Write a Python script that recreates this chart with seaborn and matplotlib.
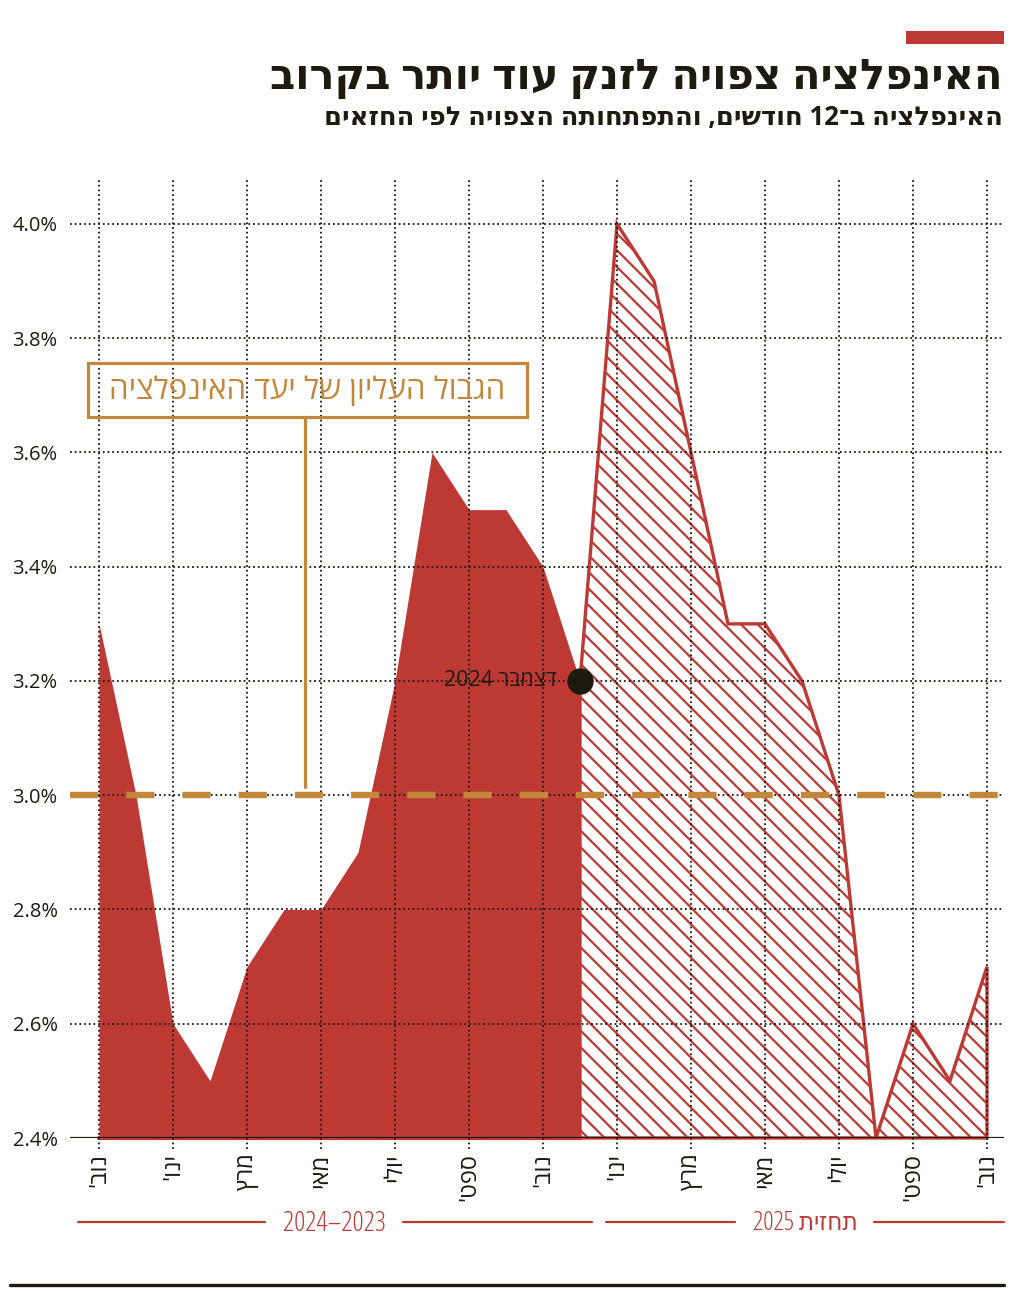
import re
import numpy as np
import pandas as pd
import matplotlib
matplotlib.use("Agg")
import matplotlib.pyplot as plt
import seaborn as sns
from matplotlib.patches import Rectangle
from matplotlib.lines import Line2D

sns.set_style("white")
plt.rcParams['font.family'] = ['Open Sans', 'DejaVu Sans']
plt.rcParams['hatch.linewidth'] = 1.6

# data: month index 0 = Nov 2023 ... 24 = Nov 2025
tick_months = [0, 2, 4, 6, 8, 10, 12, 14, 16, 18, 20, 22, 24]
tick_labels = ["נוב'", "ינו'", "מרץ", "מאי", "יולי", "ספט'", "נוב'",
               "ינו'", "מרץ", "מאי", "יולי", "ספט'", "נוב'"]
hist_months = list(range(0, 14))
hist_values = [3.3, 3.0, 2.6, 2.5, 2.7, 2.8, 2.8, 2.9, 3.2, 3.6, 3.5, 3.5, 3.4, 3.2]
fc_months = list(range(13, 25))
fc_values = [3.2, 4.0, 3.9, 3.6, 3.3, 3.3, 3.2, 3.0, 2.4, 2.6, 2.5, 2.7]
y_ticks = [2.4, 2.6, 2.8, 3.0, 3.2, 3.4, 3.6, 3.8, 4.0]
target = 3.0

RED = "#bd3a34"
GOLD = "#c2873a"
DARK = "#1e1a10"


def rtl(s):
    # crude visual ordering for hebrew, digits kept in place
    parts = re.split(r'(\d+)', s)
    return ''.join(p if p.isdigit() else p[::-1] for p in reversed(parts))


hist = pd.DataFrame({"month": hist_months, "inflation": hist_values})
fc = pd.DataFrame({"month": fc_months, "inflation": fc_values})

W, H = 1024, 1291
fig = plt.figure(figsize=(W / 100, H / 100), dpi=100)
ax = fig.add_axes([70 / W, 1 - 1138 / H, (1004 - 70) / W, (1138 - 180) / H])
x0, x1 = (70 - 99) / 37, (1004 - 99) / 37
ax.set_xlim(x0, x1)
ax.set_ylim(2.4, 2.4 + (1138 - 180) / 571.25)

# historical area
ax.fill_between(hist["month"], 2.4, hist["inflation"], color=RED, lw=0, zorder=1)
ax.plot([hist["month"].min(), hist["month"].max()], [2.4, 2.4], color=RED, lw=3,
        clip_on=False, zorder=1)

# forecast, hatched
ax.fill_between(fc["month"], 2.4, fc["inflation"], facecolor="white", edgecolor=RED,
                hatch="\\\\", lw=0, zorder=1)
outline = pd.DataFrame({
    "month": [fc["month"].iloc[0]] + list(fc["month"]) + [fc["month"].iloc[-1], fc["month"].iloc[0]],
    "inflation": [2.4] + list(fc["inflation"]) + [2.4, 2.4],
})
sns.lineplot(data=outline, x="month", y="inflation", sort=False, estimator=None,
             color=RED, lw=2.4, ax=ax, zorder=2, clip_on=False)
for l in ax.lines[-1:]:
    l.set_solid_joinstyle("miter")

# grid (drawn on top, dotted)
dot = (0, (1, 1.6))
ax.vlines(tick_months, 2.38, ax.get_ylim()[1], colors=DARK, lw=1.3, linestyles=[dot],
          zorder=3, clip_on=False)
ax.hlines(y_ticks[1:], x0, x1, colors=DARK, lw=1.3, linestyles=[dot], zorder=3)
ax.axhline(2.4, color=DARK, lw=1.6, zorder=5)

# inflation target line
ax.axhline(target, color=GOLD, lw=4.6, linestyle=(0, (4.4, 4.4)), zorder=4)

# last actual point
ax.scatter([hist["month"].iloc[-1]], [hist["inflation"].iloc[-1]], s=360, color=DARK,
           zorder=6, lw=0)
ax.annotate(rtl("דצמבר 2024"), (hist["month"].iloc[-1], hist["inflation"].iloc[-1]),
            xytext=(-17, 0), textcoords="offset points", ha="right", va="center",
            fontsize=15.5, color=DARK, zorder=6)

for s in ax.spines.values():
    s.set_visible(False)
ax.set_xticks(tick_months, labels=[rtl(t) for t in tick_labels], rotation=90)
ax.set_yticks(y_ticks, labels=[f"{v:.1f}%" for v in y_ticks])
ax.tick_params(axis="x", length=0, pad=11, labelsize=17, labelcolor=DARK)
ax.tick_params(axis="y", length=0, pad=9, labelsize=14.5, labelcolor=DARK)
ax.set_xlabel("")
ax.set_ylabel("")

# annotation box for target
fig.add_artist(Rectangle((88 / W, 1 - 417 / H), (527 - 88) / W, (417 - 363) / H,
                         transform=fig.transFigure, fill=False, ec=GOLD, lw=2.3))
fig.text(307 / W, 1 - 391 / H, rtl("הגבול העליון של יעד האינפלציה"), ha="center",
         va="center", fontsize=22.5, color=GOLD)
fig.add_artist(Line2D([305 / W, 305 / W], [1 - 417 / H, 1 - 787 / H],
                      transform=fig.transFigure, color=GOLD, lw=2.3))

# titles
fig.add_artist(Rectangle((906 / W, 1 - 44 / H), 98 / W, 13 / H,
                         transform=fig.transFigure, color=RED, lw=0))
fig.text(1003 / W, 1 - 78 / H, rtl("האינפלציה צפויה לזנק עוד יותר בקרוב"), ha="right",
         va="center", fontsize=30, weight="heavy", color=DARK)
fig.text(1003 / W, 1 - 117 / H, rtl("האינפלציה ב־12 חודשים, והתפתחותה הצפויה לפי החזאים"),
         ha="right", va="center", fontsize=18.5, weight="bold", color=DARK)

# period labels under the axis
for (a, b) in [(78, 265), (403, 592), (606, 735), (874, 1004)]:
    fig.add_artist(Line2D([a / W, b / W], [1 - 1222 / H] * 2, transform=fig.transFigure,
                          color=RED, lw=1.6))
fig.text(334 / W, 1 - 1224 / H, rtl("2023–2024"), ha="center", va="center", fontsize=20,
         color=RED, fontstretch="condensed")
fig.text(805 / W, 1 - 1224 / H, rtl("תחזית 2025"), ha="center", va="center", fontsize=18.5,
         color=RED, fontstretch="condensed")
fig.add_artist(Line2D([10 / W, 1004 / W], [1 - 1285 / H] * 2, transform=fig.transFigure,
                      color=DARK, lw=2.4))

fig.savefig("out.png", dpi=100)
